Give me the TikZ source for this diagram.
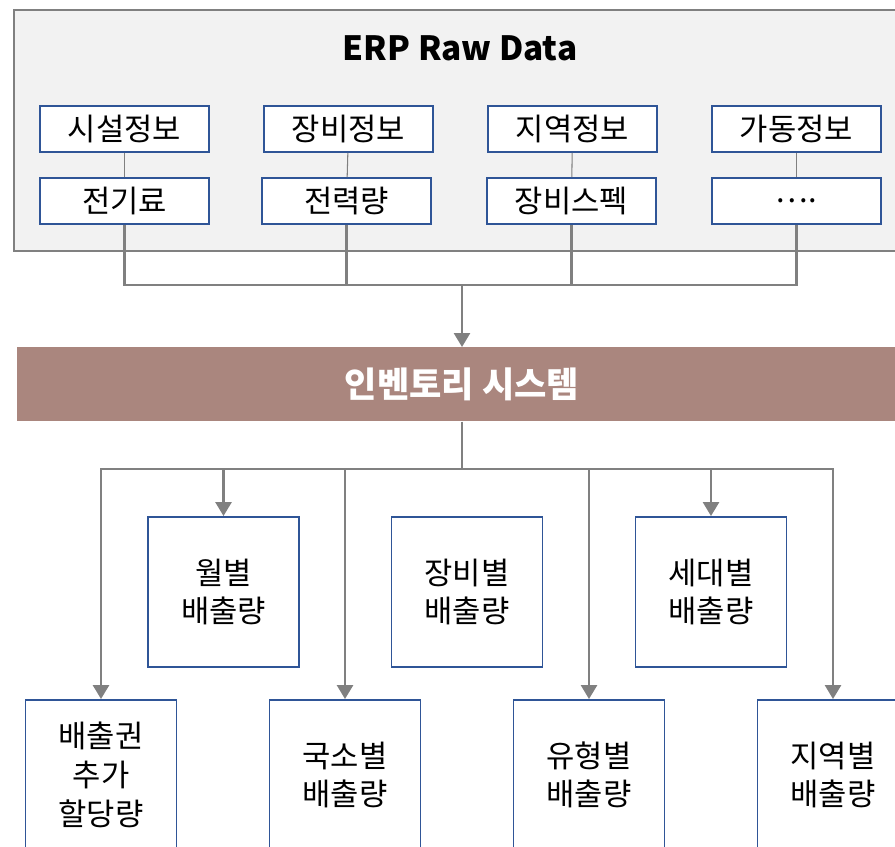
\documentclass[tikz,border=0pt]{standalone}
\usepackage{fontspec}
\setmainfont{Noto Sans CJK KR}
\usetikzlibrary{arrows.meta}

\definecolor{linegray}{RGB}{128,128,128}
\definecolor{boxblue}{RGB}{47,85,151}
\definecolor{rawfill}{RGB}{242,242,242}
\definecolor{invfill}{RGB}{170,134,126}

\tikzset{
  rawbox/.style={draw=boxblue, line width=1.1pt, fill=white, minimum width=3.38cm, minimum height=0.92cm, inner sep=0pt, font=\fontsize{17.5}{20}\selectfont},
  outbox/.style={draw=boxblue, line width=1.1pt, fill=white, minimum width=3.02cm, minimum height=3cm, inner sep=0pt, align=center, font=\fontsize{17.5}{22}\selectfont},
  link/.style={linegray, line width=1.5pt},
  thinlink/.style={linegray, line width=0.6pt},
  flow/.style={link, -{Triangle[width=0.32cm, length=0.28cm]}}
}

\begin{document}
\begin{tikzpicture}[x=0.02cm, y=-0.02cm]
        \useasboundingbox (0,0) rectangle (895,846);
        \clip (0,0) rectangle (895,846);

        % ERP raw data
        \draw[linegray, line width=1.1pt, fill=rawfill] (14,10) rectangle (910,251);
        \node[font=\fontsize{19}{24}\selectfont\bfseries] (title) at (460,48) {ERP Raw Data};

        \node[rawbox] (facility) at (124.5,129) {시설정보};
        \node[rawbox] (equip) at (348.5,129) {장비정보};
        \node[rawbox] (area) at (572.5,129) {지역정보};
        \node[rawbox] (operate) at (796.5,129) {가동정보};
        \node[rawbox] (elec) at (124.5,201) {전기료};
        \node[rawbox] (power) at (346.5,201) {전력량};
        \node[rawbox] (spec) at (571.5,201) {장비스펙};
        \node[rawbox] (etc) at (796.5,201) {….};

        \draw[thinlink] (facility) -- (elec);
        \draw[thinlink] (equip) -- (power);
        \draw[thinlink] (area) -- (spec);
        \draw[thinlink] (operate) -- (etc);

        \coordinate (hub) at (462,285);
        \draw[link] (elec.south) |- (hub) -| (etc.south);
        \draw[link] (power.south) -- (power.south |- hub);
        \draw[link] (spec.south) -- (spec.south |- hub);

        % inventory system
        \node[fill=invfill, minimum width=17.9cm, minimum height=1.48cm, anchor=north west, inner sep=0pt] (inv) at (17,347) {};
        \node[text=white, font=\fontsize{20}{22}\selectfont\bfseries] (invtext) at (462,384) {인벤토리 시스템};
        \draw[flow] (hub) -- (hub |- inv.north);

        % outputs
        \node[outbox] (monthly) at (223.5,592) {월별\\배출량};
        \node[outbox] (byequip) at (467,592) {장비별\\배출량};
        \node[outbox] (household) at (711,592) {세대별\\배출량};
        \node[outbox] (quota) at (101,775) {배출권\\추가\\할당량};
        \node[outbox] (local) at (345,775) {국소별\\배출량};
        \node[outbox] (type) at (589,775) {유형별\\배출량};
        \node[outbox] (region) at (833,775) {지역별\\배출량};

        \coordinate (split) at (462,469);
        \draw[link] (hub |- inv.south) -- (split);
        \draw[flow] (split) -| (quota.north);
        \draw[flow] (split) -| (monthly.north);
        \draw[flow] (split) -| (local.north);
        \draw[flow] (split) -| (type.north);
        \draw[flow] (split) -| (household.north);
        \draw[flow] (split) -| (region.north);
    \end{tikzpicture}
\end{document}
